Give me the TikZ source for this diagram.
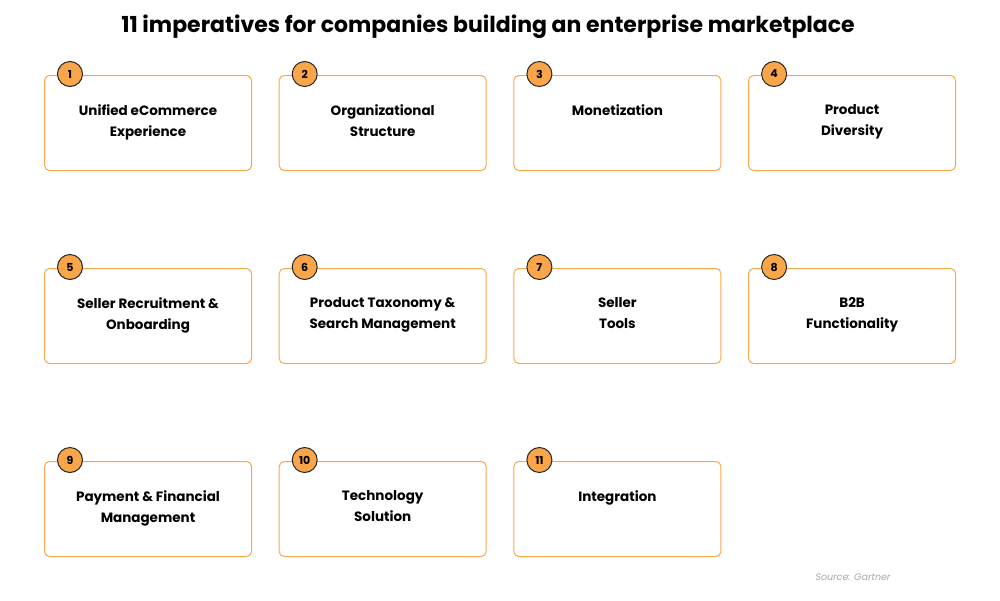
\documentclass[tikz,border=0pt]{standalone}
\usepackage{fontspec}
\setmainfont{Poppins}
\usetikzlibrary{positioning}
\definecolor{boxorange}{HTML}{F7A84E}
\definecolor{dotorange}{HTML}{F9A549}
\tikzset{
  itembox/.style={draw=boxorange,line width=1pt,rounded corners=5pt,
    minimum width=207pt,minimum height=95pt,anchor=north west},
  itemnum/.style={circle,draw=black!85,fill=dotorange,line width=1pt,
    minimum size=25pt,inner sep=0pt,font=\bfseries\fontsize{11}{11}\selectfont},
  itemtext/.style={align=center,anchor=north,font=\bfseries\fontsize{13.5}{21}\selectfont}
}
\begin{document}
\begin{tikzpicture}[x=1pt,y=-1pt]
\useasboundingbox (0,0) rectangle (1000,600);
%
  \node (title) at (488,27) {\bfseries\fontsize{22}{24}\selectfont 11 imperatives for companies building an enterprise marketplace};
%
  \foreach \n/\col/\row/\txt in {
    1/0/0/{Unified eCommerce\\Experience},
    2/1/0/{Organizational\\Structure},
    3/2/0/{Monetization},
    4/3/0/{Product\\Diversity},
    5/0/1/{Seller Recruitment \&\\Onboarding},
    6/1/1/{Product Taxonomy \&\\Search Management},
    7/2/1/{Seller\\Tools},
    8/3/1/{B2B\\Functionality},
    9/0/2/{Payment \& Financial\\Management},
    10/1/2/{Technology\\Solution},
    11/2/2/{Integration}} {
    \node (box\n) [itembox] at (44+234.7*\col,75+193*\row) {};
    \node (txt\n) [itemtext] at ([yshift=-26pt]box\n.north) {\txt};
    \node (num\n) [itemnum] at ([xshift=26pt,yshift=1pt]box\n.north west) {\n};
  }
%
  \node (source) at (853,577) {\itshape\fontsize{9.5}{10}\selectfont\color{black!35}Source: Gartner};
%
\end{tikzpicture}
\end{document}
